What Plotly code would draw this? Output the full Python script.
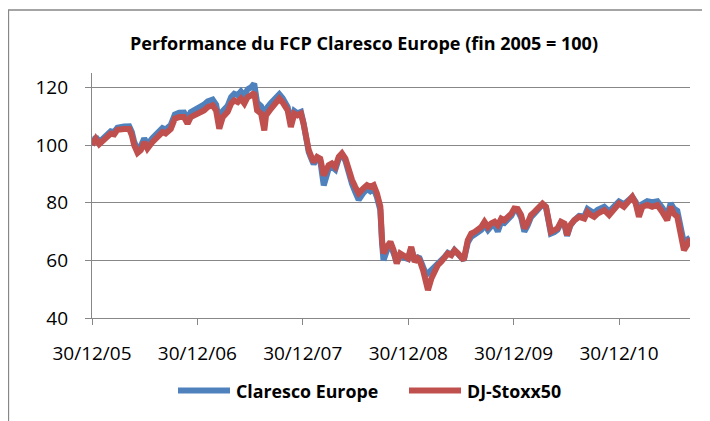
import plotly.graph_objects as go

dates = [
    "2005-12-30", "2006-01-12", "2006-01-24", "2006-02-10", "2006-03-05", "2006-03-17", "2006-03-28",
    "2006-04-20", "2006-05-08", "2006-05-17", "2006-05-25", "2006-06-06", "2006-06-17", "2006-06-29",
    "2006-07-10", "2006-07-27", "2006-08-14", "2006-08-31", "2006-09-11", "2006-09-29", "2006-10-13",
    "2006-10-28", "2006-11-14", "2006-11-26", "2006-12-07", "2006-12-19",
    "2007-01-05", "2007-01-12", "2007-01-22", "2007-02-04", "2007-02-21", "2007-03-05", "2007-03-16",
    "2007-03-28", "2007-04-14", "2007-04-26", "2007-05-07", "2007-05-19", "2007-05-30", "2007-06-11",
    "2007-06-22", "2007-07-04", "2007-07-15", "2007-07-25", "2007-08-08", "2007-08-19", "2007-08-25",
    "2007-09-11", "2007-09-23", "2007-10-10", "2007-10-21", "2007-11-08", "2007-11-19", "2007-12-01",
    "2007-12-12", "2007-12-24",
    "2008-01-02", "2008-01-14", "2008-01-20", "2008-01-31", "2008-02-06", "2008-02-18", "2008-02-29",
    "2008-03-12", "2008-03-29", "2008-04-09", "2008-04-21", "2008-05-03", "2008-05-14", "2008-05-26",
    "2008-06-06", "2008-06-18", "2008-06-29", "2008-07-11", "2008-07-28", "2008-08-09", "2008-08-20",
    "2008-09-01", "2008-09-12", "2008-09-18", "2008-09-24", "2008-09-30", "2008-10-05", "2008-10-17",
    "2008-10-29", "2008-11-09", "2008-11-20", "2008-12-02", "2008-12-14", "2008-12-29",
    "2009-01-09", "2009-01-21", "2009-02-01", "2009-02-07", "2009-02-19", "2009-03-02", "2009-03-08",
    "2009-03-20", "2009-03-31", "2009-04-11", "2009-04-23", "2009-05-05", "2009-05-16", "2009-05-28",
    "2009-06-08", "2009-06-20", "2009-07-01", "2009-07-10", "2009-07-24", "2009-08-05", "2009-08-17",
    "2009-08-28", "2009-09-09", "2009-09-20", "2009-10-02", "2009-10-13", "2009-10-25", "2009-11-05",
    "2009-11-17", "2009-11-28", "2009-12-10", "2009-12-22",
    "2010-01-01", "2010-01-13", "2010-01-25", "2010-02-05", "2010-02-16", "2010-02-28", "2010-03-12",
    "2010-03-23", "2010-04-09", "2010-04-21", "2010-05-03", "2010-05-08", "2010-05-20", "2010-05-31",
    "2010-06-12", "2010-06-24", "2010-07-03", "2010-07-14", "2010-07-28", "2010-08-14", "2010-09-01",
    "2010-09-12", "2010-09-24", "2010-10-05", "2010-10-17", "2010-10-29", "2010-11-09", "2010-11-26",
    "2010-12-14", "2010-12-30",
    "2011-01-16", "2011-02-03", "2011-02-14", "2011-02-26", "2011-03-09", "2011-03-21", "2011-04-07",
    "2011-04-24", "2011-05-12", "2011-05-29", "2011-06-15", "2011-06-27", "2011-07-08", "2011-07-20",
    "2011-08-01", "2011-08-12", "2011-08-23", "2011-09-02",
]

stoxx50 = [
    100.0, 102.2, 100.3, 102.2, 104.0, 103.7, 105.3,
    105.6, 105.6, 103.4, 100.0, 97.3, 98.2, 101.0,
    98.8, 101.0, 102.8, 104.5, 104.0, 105.6, 109.2,
    109.7, 109.7, 107.4, 109.7, 110.3,
    110.9, 111.5, 112.0, 113.2, 113.8, 112.0, 105.7,
    109.7, 111.5, 114.4, 115.5, 114.9, 116.1, 114.4,
    116.6, 117.2, 118.2, 112.0, 110.9, 105.1, 110.3,
    112.6, 113.8, 116.1, 114.9, 112.0, 106.3, 110.9,
    110.3, 110.9,
    107.4, 100.5, 98.2, 95.5, 94.1, 95.9, 95.3,
    89.5, 93.0, 93.6, 92.4, 95.9, 97.1, 95.3,
    91.3, 87.9, 85.5, 83.3, 85.0, 86.1, 85.5,
    86.1, 83.3, 81.6, 78.7, 67.0, 62.4, 64.7,
    66.4, 63.5, 58.9, 62.4, 61.8, 60.7,
    64.7, 59.5, 60.7, 60.1, 56.6, 50.8, 49.7,
    53.7, 56.6, 58.3, 59.5, 60.7, 62.4, 61.8,
    63.5, 62.4, 61.2, 60.1, 67.0, 69.3, 69.9,
    70.7, 71.6, 73.4, 71.6, 72.8, 73.4, 72.2,
    74.5, 73.9, 75.1, 76.2,
    78.0, 77.8, 75.7, 71.1, 72.8, 75.7, 76.8,
    78.0, 79.7, 78.6, 73.4, 69.9, 70.5, 71.1,
    73.4, 72.8, 68.8, 72.2, 73.9, 75.1, 74.5,
    76.8, 75.7, 75.1, 76.2, 76.8, 77.4, 75.7,
    78.0, 79.7,
    78.6, 80.9, 82.0, 79.7, 75.1, 78.6, 79.2,
    78.6, 79.2, 76.8, 73.9, 78.6, 76.2, 75.1,
    68.2, 63.5, 65.3, 67.6,
]

claresco = [
    100.0, 102.8, 101.0, 102.9, 104.8, 104.5, 106.0,
    106.4, 106.5, 104.5, 101.2, 98.5, 99.6, 102.3,
    100.2, 102.4, 104.2, 105.9, 105.4, 107.0, 110.6,
    111.2, 111.3, 109.0, 111.4, 112.0,
    112.7, 113.4, 114.0, 115.2, 115.8, 114.0, 107.8,
    111.8, 113.6, 116.6, 117.8, 117.3, 118.6, 117.0,
    119.3, 120.0, 121.3, 114.8, 113.5, 107.5, 112.5,
    114.6, 115.6, 117.6, 116.3, 113.2, 107.4, 111.8,
    111.0, 111.5,
    107.6, 100.0, 97.5, 94.8, 93.4, 95.5, 94.5,
    86.0, 91.8, 92.5, 91.5, 95.3, 96.6, 94.6,
    90.0, 86.5, 83.8, 81.0, 83.5, 84.8, 84.0,
    85.0, 82.0, 80.3, 77.5, 66.0, 60.0, 63.5,
    65.5, 62.5, 59.2, 62.0, 61.0, 60.5,
    64.2, 59.8, 61.0, 60.8, 58.0, 55.0, 55.5,
    56.6, 57.8, 59.0, 60.0, 61.2, 62.6, 62.0,
    63.6, 62.3, 61.0, 60.0, 66.2, 68.2, 69.0,
    69.8, 70.6, 72.3, 70.5, 71.8, 72.3, 70.0,
    73.5, 73.0, 74.3, 75.5,
    77.4, 77.2, 74.8, 70.0, 72.0, 75.0, 76.3,
    77.6, 79.4, 78.4, 73.0, 69.3, 69.8, 70.6,
    73.0, 72.4, 68.5, 72.0, 73.9, 75.4, 75.2,
    77.8, 77.0, 76.5, 77.5, 78.0, 78.6, 77.0,
    79.0, 80.4,
    79.5, 81.2, 82.0, 80.2, 76.2, 79.5, 80.5,
    80.2, 80.5, 78.3, 75.5, 79.8, 78.0, 77.2,
    70.5, 66.0, 67.2, 67.8,
]

tick_dates = ["2005-12-30", "2006-12-30", "2007-12-30", "2008-12-30", "2009-12-30", "2010-12-30"]
tick_labels = ["30/12/05", "30/12/06", "30/12/07", "30/12/08", "30/12/09", "30/12/10"]
y_ticks = [40, 60, 80, 100, 120]

title_text = "Performance du FCP Claresco Europe (fin 2005 = 100)"
series_names = ["Claresco Europe", "DJ-Stoxx50"]
series_colors = ["#4F81BD", "#C0504D"]

FONT = "'Open Sans', Lato, sans-serif"
GRAY = "#878787"

# the page body has an 8px margin: the figure is placed at (8, 8) in the window
OFF = 8
W, H = 710 - OFF, 421 - OFF
ML, MR, MT, MB = 92 - OFF, 20, 73 - OFF, 103
PW, PH = W - ML - MR, H - MT - MB


def px_x(px):
    # px given in window coordinates
    return (px - OFF - ML) / PW


def px_y(py):
    return (H - MB - (py - OFF)) / PH


fig = go.Figure()
fig.add_trace(go.Scatter(x=dates, y=claresco, mode="lines", name=series_names[0],
                         line=dict(color=series_colors[0], width=6), showlegend=False))
fig.add_trace(go.Scatter(x=dates, y=stoxx50, mode="lines", name=series_names[1],
                         line=dict(color=series_colors[1], width=6), showlegend=False))

shapes = [
    dict(type="rect", xref="paper", yref="paper", x0=px_x(8.5), x1=px_x(740),
         y0=px_y(450), y1=px_y(10), line=dict(color=GRAY, width=1.3), fillcolor="rgba(0,0,0,0)",
         layer="below"),
]
legend_y = px_y(390.5)
shapes.append(dict(type="line", xref="paper", yref="paper", x0=px_x(178), x1=px_x(230),
                   y0=legend_y, y1=legend_y, line=dict(color=series_colors[0], width=6)))
shapes.append(dict(type="line", xref="paper", yref="paper", x0=px_x(409), x1=px_x(461),
                   y0=legend_y, y1=legend_y, line=dict(color=series_colors[1], width=6)))

annotations = [
    dict(text="<b>" + series_names[0] + "</b>", xref="paper", yref="paper", x=px_x(234), y=legend_y,
         xanchor="left", yanchor="middle", showarrow=False, font=dict(size=17.8, color="#000")),
    dict(text="<b>" + series_names[1] + "</b>", xref="paper", yref="paper", x=px_x(465), y=legend_y,
         xanchor="left", yanchor="middle", showarrow=False, font=dict(size=17.8, color="#000")),
]

fig.update_layout(
    width=W, height=H,
    margin=dict(l=ML, r=MR, t=MT, b=MB, pad=0),
    paper_bgcolor="white", plot_bgcolor="white",
    font=dict(family=FONT, color="#000"),
    title=dict(text="<b>" + title_text + "</b>", x=(364 - OFF) / W, xref="container", xanchor="center",
               y=1 - (44 - OFF) / H, yref="container", yanchor="middle", font=dict(size=18, color="#000")),
    shapes=shapes,
    annotations=annotations,
    showlegend=False,
    xaxis=dict(type="date", range=["2005-12-30", "2011-09-02"], tickvals=tick_dates, ticktext=tick_labels,
               showgrid=False, zeroline=False, showline=True, linecolor=GRAY, linewidth=1.3,
               ticks="outside", ticklen=6, tickcolor=GRAY, tickwidth=1.3,
               tickfont=dict(size=19, color="#000"), ticklabelstandoff=12),
    yaxis=dict(range=[40, 125], tickvals=y_ticks, showgrid=True, gridcolor=GRAY, gridwidth=1.3,
               zeroline=False, showline=True, linecolor=GRAY, linewidth=1.3,
               ticks="outside", ticklen=6, tickcolor=GRAY, tickwidth=1.3,
               tickfont=dict(size=19, color="#000"), ticklabelstandoff=13),
)

fig.write_html("out.html")
